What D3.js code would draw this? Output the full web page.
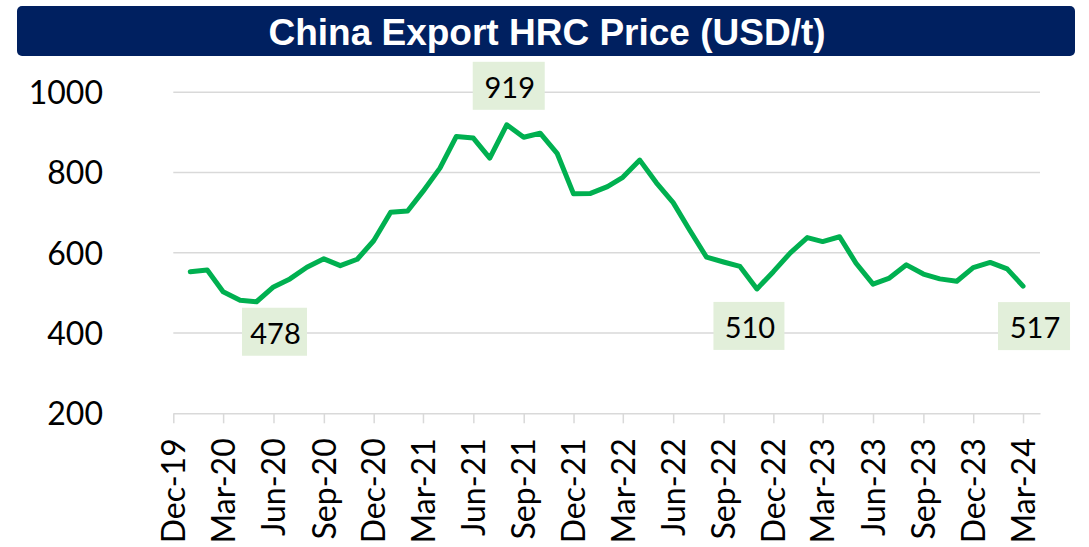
<!DOCTYPE html>
<html lang="en">
<head>
    <meta charset="UTF-8">
    <title>China Export HRC Price</title>
    <script src="https://d3js.org/d3.v7.min.js"></script>
    <style>
        body { margin: 0; background: #fff; }
        .grid line { stroke: #d9d9d9; stroke-width: 1.5; }
        .tick-label { font-family: Lato, "Open Sans", sans-serif; fill: #000; }
        .data-box { fill: #e2efda; }
    </style>
</head>
<body>
<svg id="chart" width="1089" height="547"></svg>

<script>
    const chartTitle = "China Export HRC Price (USD/t)";

    const months = [
        "Jan-20", "Feb-20", "Mar-20", "Apr-20", "May-20", "Jun-20", "Jul-20", "Aug-20", "Sep-20", "Oct-20", "Nov-20", "Dec-20",
        "Jan-21", "Feb-21", "Mar-21", "Apr-21", "May-21", "Jun-21", "Jul-21", "Aug-21", "Sep-21", "Oct-21", "Nov-21", "Dec-21",
        "Jan-22", "Feb-22", "Mar-22", "Apr-22", "May-22", "Jun-22", "Jul-22", "Aug-22", "Sep-22", "Oct-22", "Nov-22", "Dec-22",
        "Jan-23", "Feb-23", "Mar-23", "Apr-23", "May-23", "Jun-23", "Jul-23", "Aug-23", "Sep-23", "Oct-23", "Nov-23", "Dec-23",
        "Jan-24", "Feb-24", "Mar-24"
    ];

    const prices = [
        553, 557, 503, 482, 478, 515, 535, 564, 585, 568, 584, 630,
        701, 704, 753, 811, 890, 886, 836, 919, 888, 898, 848, 747,
        748, 765, 788, 831, 775, 725, 657, 589, 577, 566, 510, 553,
        600, 638, 628, 640, 574, 522, 537, 570, 547, 535, 529, 563,
        576, 560, 517
    ];

    const xTickLabels = [
        "Dec-19", "Mar-20", "Jun-20", "Sep-20", "Dec-20", "Mar-21", "Jun-21", "Sep-21", "Dec-21",
        "Mar-22", "Jun-22", "Sep-22", "Dec-22", "Mar-23", "Jun-23", "Sep-23", "Dec-23", "Mar-24"
    ];
    const yTicks = [200, 400, 600, 800, 1000];

    // months that get a value callout
    const labelMonths = ["May-20", "Aug-21", "Nov-22", "Mar-24"];

    const parseMonth = d3.timeParse("%b-%y");
    const fmtMonth = d3.timeFormat("%b-%y");
    const data = months.map((m, i) => ({date: parseMonth(m), value: prices[i], month: m}));

    const svg = d3.select("#chart");

    const x = d3.scaleTime()
        .domain([parseMonth("Dec-19"), parseMonth("Apr-24")])
        .range([173.3, 1040]);

    const y = d3.scaleLinear()
        .domain([200, 1000])
        .range([413.3, 92.3]);

    // title banner
    svg.append("rect")
        .attr("x", 17).attr("y", 6)
        .attr("width", 1058).attr("height", 50)
        .attr("rx", 5)
        .attr("fill", "#002060");
    svg.append("text")
        .attr("x", 547).attr("y", 45)
        .attr("text-anchor", "middle")
        .attr("font-family", "'Liberation Sans', Arial, sans-serif")
        .attr("font-weight", "bold")
        .attr("font-size", 37)
        .attr("fill", "#fff")
        .text(chartTitle);

    // horizontal gridlines
    svg.append("g")
        .attr("class", "grid")
        .selectAll("line")
        .data(yTicks.filter(d => d > 200))
        .enter().append("line")
        .attr("x1", x.range()[0])
        .attr("x2", x.range()[1])
        .attr("y1", d => y(d))
        .attr("y2", d => y(d));

    // x axis
    const xAxis = svg.append("g")
        .attr("transform", `translate(0, ${y(200)})`)
        .call(d3.axisBottom(x)
            .tickValues(xTickLabels.map(parseMonth))
            .tickFormat(fmtMonth)
            .tickSize(10)
            .tickSizeOuter(0));
    xAxis.select(".domain").attr("stroke", "#d9d9d9").attr("stroke-width", 1.5);
    xAxis.selectAll(".tick line").attr("stroke", "#d9d9d9").attr("stroke-width", 1.5);
    xAxis.selectAll(".tick text")
        .attr("class", "tick-label")
        .attr("font-size", 32)
        .attr("transform", "rotate(-90)")
        .attr("text-anchor", "end")
        .attr("x", -25)
        .attr("y", 0)
        .attr("dy", "0.35em");

    // y axis
    const yAxis = svg.append("g")
        .attr("transform", "translate(103, 0)")
        .call(d3.axisLeft(y).tickValues(yTicks).tickFormat(d3.format("d")).tickSize(0).tickPadding(0));
    yAxis.select(".domain").remove();
    yAxis.selectAll(".tick text")
        .attr("class", "tick-label")
        .attr("font-size", 32)
        .attr("dy", "0.35em");

    // price line
    const line = d3.line()
        .x(d => x(d.date))
        .y(d => y(d.value));

    svg.append("path")
        .datum(data)
        .attr("fill", "none")
        .attr("stroke", "#00b050")
        .attr("stroke-width", 5)
        .attr("stroke-linejoin", "round")
        .attr("stroke-linecap", "round")
        .attr("d", line);

    // value callouts: box offset from its point (dx to box centre, dy to box top)
    const callout = {
        "May-20": {dx: 18, dy: 6, w: 65},
        "Aug-21": {dx: 2, dy: -63, w: 72},
        "Nov-22": {dx: -8, dy: 13, w: 71},
        "Mar-24": {dx: 11, dy: 16, w: 72}
    };
    const boxH = 48;

    const labels = svg.append("g")
        .selectAll("g")
        .data(data.filter(d => labelMonths.includes(d.month)))
        .enter().append("g")
        .attr("transform", d => {
            const c = callout[d.month];
            return `translate(${x(d.date) + c.dx}, ${y(d.value) + c.dy})`;
        });

    labels.append("rect")
        .attr("class", "data-box")
        .attr("x", d => -callout[d.month].w / 2)
        .attr("y", 0)
        .attr("width", d => callout[d.month].w)
        .attr("height", boxH);

    labels.append("text")
        .attr("class", "tick-label")
        .attr("x", 1)
        .attr("y", 36)
        .attr("text-anchor", "middle")
        .attr("font-size", 29)
        .text(d => d.value);
</script>
</body>
</html>
